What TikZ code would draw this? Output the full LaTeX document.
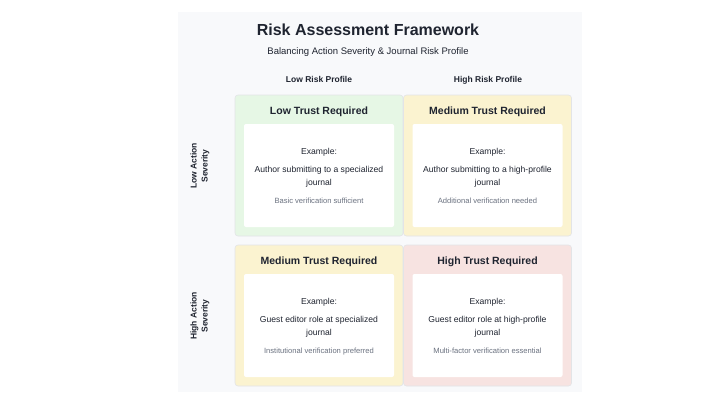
\documentclass[tikz,border=0pt]{standalone}
\usepackage{fontspec}
\setmainfont{Liberation Sans}
\setsansfont{Liberation Sans}
\usetikzlibrary{positioning}

\definecolor{panel}{HTML}{F8F9FB}
\definecolor{lowfill}{HTML}{E6F7E5}
\definecolor{medfill}{HTML}{FBF3D0}
\definecolor{highfill}{HTML}{F7E3E1}
\definecolor{cellline}{HTML}{E2E4E7}
\definecolor{ink}{HTML}{1F2430}
\definecolor{note}{HTML}{6B7280}

\begin{document}
\begin{tikzpicture}[x=1pt, y=-1pt,
  font=\sffamily,
  cell/.style={rectangle, rounded corners=3pt, draw=cellline, line width=0.6pt,
               minimum width=168pt, minimum height=141pt, inner sep=0pt},
  card/.style={rectangle, rounded corners=2pt, fill=white,
               minimum width=150pt, minimum height=103pt, inner sep=0pt},
  level/.style={font=\sffamily\bfseries\fontsize{10.5}{13}\selectfont, text=ink},
  body/.style={font=\sffamily\fontsize{8.6}{13}\selectfont, text=ink, align=center},
  hint/.style={font=\sffamily\fontsize{7.6}{9}\selectfont, text=note, anchor=base},
  axis/.style={font=\sffamily\bfseries\fontsize{8.5}{11}\selectfont, text=ink, align=center}
]
% page and panel
\useasboundingbox[fill=white] (0,0) rectangle (720,405);
\fill[panel] (178,12) rectangle (582,392);

% title
\node[font=\sffamily\bfseries\fontsize{16}{19}\selectfont, text=ink] (title) at (368,30) {Risk Assessment Framework};
\node[font=\sffamily\fontsize{9.5}{12}\selectfont, text=ink] (sub) at (368,52) {Balancing Action Severity \& Journal Risk Profile};

% column and row headers
\node[axis, anchor=base] (lowrisk) at (319,82) {Low Risk Profile};
\node[axis, anchor=base] (highrisk) at (488,82) {High Risk Profile};
\node[axis, rotate=90] (lowsev) at (200,166) {Low Action\\Severity};
\node[axis, rotate=90] (highsev) at (200,316) {High Action\\Severity};

% low severity, low risk
\node[cell, fill=lowfill] (ll) at (319,165.5) {};
\node[level] (ll-t) at (319,112) {Low Trust Required};
\node[card] (ll-c) at (319,175.5) {};
\node[body] (ll-e) at (319,152) {Example:};
\node[body] (ll-x) at (319,176.5) {Author submitting to a specialized\\journal};
\node[hint] (ll-n) at (319,203) {Basic verification sufficient};

% low severity, high risk
\node[cell, fill=medfill] (lh) at (487.5,165.5) {};
\node[level] (lh-t) at (487.5,112) {Medium Trust Required};
\node[card] (lh-c) at (487.5,175.5) {};
\node[body] (lh-e) at (487.5,152) {Example:};
\node[body] (lh-x) at (487.5,176.5) {Author submitting to a high-profile\\journal};
\node[hint] (lh-n) at (487.5,203) {Additional verification needed};

% high severity, low risk
\node[cell, fill=medfill] (hl) at (319,315.5) {};
\node[level] (hl-t) at (319,262) {Medium Trust Required};
\node[card] (hl-c) at (319,325.5) {};
\node[body] (hl-e) at (319,302) {Example:};
\node[body] (hl-x) at (319,326.5) {Guest editor role at specialized\\journal};
\node[hint] (hl-n) at (319,353) {Institutional verification preferred};

% high severity, high risk
\node[cell, fill=highfill] (hh) at (487.5,315.5) {};
\node[level] (hh-t) at (487.5,262) {High Trust Required};
\node[card] (hh-c) at (487.5,325.5) {};
\node[body] (hh-e) at (487.5,302) {Example:};
\node[body] (hh-x) at (487.5,326.5) {Guest editor role at high-profile\\journal};
\node[hint] (hh-n) at (487.5,353) {Multi-factor verification essential};
\end{tikzpicture}
\end{document}
